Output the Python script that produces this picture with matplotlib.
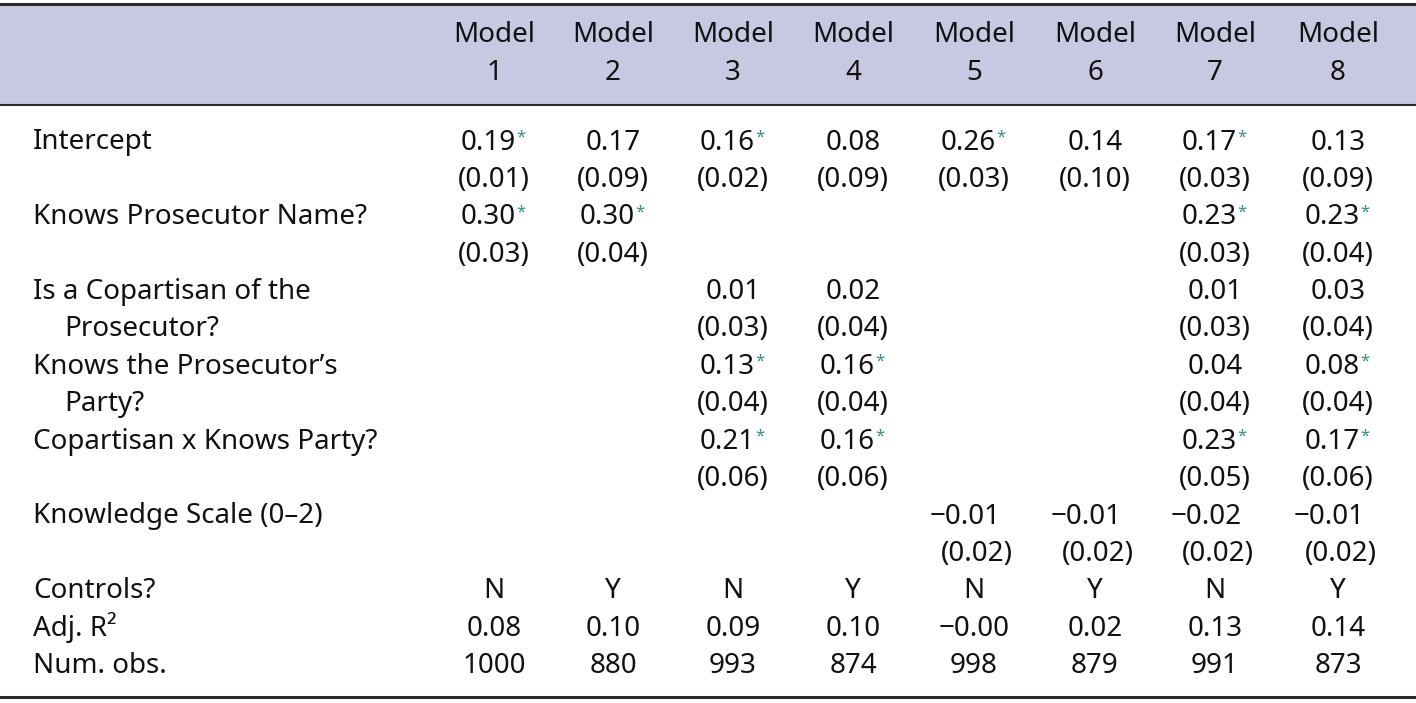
import matplotlib
matplotlib.use("Agg")
from matplotlib import pyplot as plt

MINUS = "\u2212"

models = ["1", "2", "3", "4", "5", "6", "7", "8"]

# (label lines, coefficients, standard errors, stars)
terms = [
    (["Intercept"],
     ["0.19", "0.17", "0.16", "0.08", "0.26", "0.14", "0.17", "0.13"],
     ["0.01", "0.09", "0.02", "0.09", "0.03", "0.10", "0.03", "0.09"],
     [1, 0, 1, 0, 1, 0, 1, 0]),
    (["Knows Prosecutor Name?"],
     ["0.30", "0.30", "", "", "", "", "0.23", "0.23"],
     ["0.03", "0.04", "", "", "", "", "0.03", "0.04"],
     [1, 1, 0, 0, 0, 0, 1, 1]),
    (["Is a Copartisan of the", "Prosecutor?"],
     ["", "", "0.01", "0.02", "", "", "0.01", "0.03"],
     ["", "", "0.03", "0.04", "", "", "0.03", "0.04"],
     [0, 0, 0, 0, 0, 0, 0, 0]),
    (["Knows the Prosecutor\u2019s", "Party?"],
     ["", "", "0.13", "0.16", "", "", "0.04", "0.08"],
     ["", "", "0.04", "0.04", "", "", "0.04", "0.04"],
     [0, 0, 1, 1, 0, 0, 0, 1]),
    (["Copartisan x Knows Party?"],
     ["", "", "0.21", "0.16", "", "", "0.23", "0.17"],
     ["", "", "0.06", "0.06", "", "", "0.05", "0.06"],
     [0, 0, 1, 1, 0, 0, 1, 1]),
    (["Knowledge Scale (0\u20132)"],
     ["", "", "", "", "-0.01", "-0.01", "-0.02", "-0.01"],
     ["", "", "", "", "0.02", "0.02", "0.02", "0.02"],
     [0, 0, 0, 0, 0, 0, 0, 0]),
]

controls = ["N", "Y", "N", "Y", "N", "Y", "N", "Y"]
adj_r2 = ["0.08", "0.10", "0.09", "0.10", "-0.00", "0.02", "0.13", "0.14"]
num_obs = ["1000", "880", "993", "874", "998", "879", "991", "873"]

W, H = 1416, 703
col_x = [494, 613, 733, 853, 974, 1095, 1215, 1338]
label_x = 33
indent_x = 64
row0 = 149.5
row_h = 37.4
FS = 20
FONT = "Noto Sans"
STAR_C = "#3f8f8a"
HEAD_BG = "#c8c8e3"
RULE_C = "#2b2b2b"

fig = plt.figure(figsize=(W / 100, H / 100), dpi=100)
ax = fig.add_axes([0, 0, 1, 1])
ax.set_xlim(0, W)
ax.set_ylim(H, 0)
ax.axis("off")
renderer = fig.canvas.get_renderer()

ax.axhspan(5, 105, color=HEAD_BG, lw=0)
ax.axhline(4, color=RULE_C, lw=2.2)
ax.axhline(105, color=RULE_C, lw=1.5)
ax.axhline(697, color=RULE_C, lw=2.2)


def txt(x, y, s, **kw):
    kw.setdefault("fontsize", FS)
    kw.setdefault("family", FONT)
    kw.setdefault("va", "baseline")
    kw.setdefault("color", "#111111")
    return ax.text(x, y, s, **kw)


for cx, m in zip(col_x, models):
    txt(cx, 42, "Model", ha="center")
    txt(cx, 80, m, ha="center")


def cell(cx, y, s, star=False):
    if not s:
        return
    s = s.replace("-", MINUS)
    if not star:
        txt(cx, y, s, ha="center")
        return
    t = txt(cx - 6, y, s, ha="center")
    bb = t.get_window_extent(renderer=renderer)
    txt(bb.x1 + 1, y - 8, "*", ha="left", fontsize=12, color=STAR_C)


r = 0
for lines, coefs, ses, stars in terms:
    y1 = row0 + r * row_h
    y2 = row0 + (r + 1) * row_h
    txt(label_x, y1, lines[0], ha="left")
    if len(lines) > 1:
        txt(indent_x, y2, lines[1], ha="left")
    for cx, c, s, st in zip(col_x, coefs, ses, stars):
        # negative coefficients sit a little left, their SEs a little right
        neg = c.startswith("-")
        cell(cx - 9 if neg else cx, y1, c, bool(st))
        if s:
            cell(cx + 3 if neg else cx, y2, "(" + s + ")")
    r += 2

for label, vals in [("Controls?", controls), ("Adj. R\u00b2", adj_r2),
                    ("Num. obs.", num_obs)]:
    y = row0 + r * row_h
    txt(label_x, y, label, ha="left")
    for cx, v in zip(col_x, vals):
        cell(cx, y, v)
    r += 1

fig.savefig("out.png", dpi=100, facecolor="white")
